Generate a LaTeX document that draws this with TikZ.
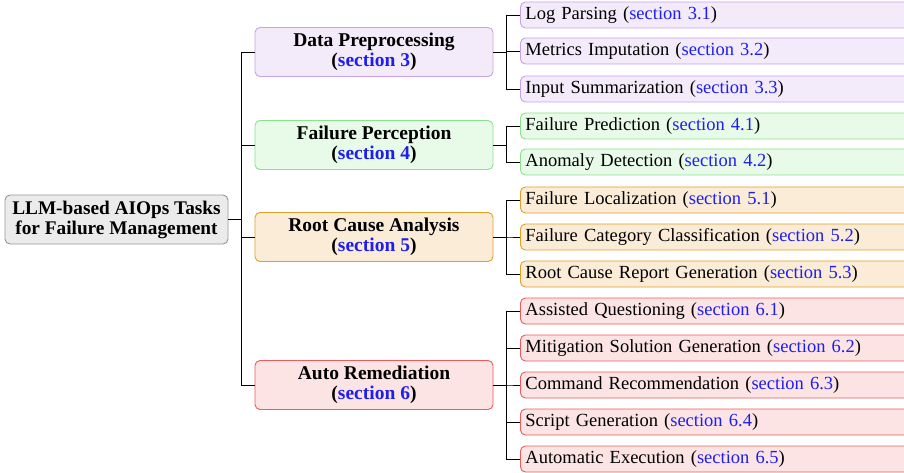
\documentclass[tikz,border=0pt]{standalone}
\usepackage{fontspec}
\setmainfont{Liberation Serif}
\definecolor{seclink}{RGB}{30,30,240}
\definecolor{pfill}{RGB}{243,235,250}
\definecolor{pdraw}{RGB}{200,160,235}
\definecolor{gfill}{RGB}{232,250,232}
\definecolor{gdraw}{RGB}{140,225,140}
\definecolor{ofill}{RGB}{250,236,215}
\definecolor{odraw}{RGB}{225,160,40}
\definecolor{rfill}{RGB}{252,228,228}
\definecolor{rdraw}{RGB}{240,90,90}
\definecolor{nfill}{RGB}{235,235,235}
\definecolor{ndraw}{RGB}{150,150,150}
\newcommand{\sref}[1]{{\color{seclink}section #1}}
\tikzset{
  box/.style={rounded corners=5pt, line width=0.9pt},
  rootbox/.style={box, fill=nfill, draw=ndraw, minimum width=223pt, minimum height=49pt, align=center, font=\fontsize{19.3}{20}\selectfont\bfseries, inner sep=0pt},
  catbox/.style={box, minimum width=238pt, minimum height=49pt, align=center, font=\fontsize{19.5}{20}\selectfont\bfseries, inner sep=0pt},
  leafbox/.style={box, anchor=west, text width=395pt, inner xsep=5pt, minimum height=26pt, inner ysep=0pt, align=left, font=\fontsize{18.5}{19}\selectfont},
  pur/.style={fill=pfill, draw=pdraw},
  gre/.style={fill=gfill, draw=gdraw},
  ora/.style={fill=ofill, draw=odraw},
  red/.style={fill=rfill, draw=rdraw},
  edge/.style={draw=black, line width=0.8pt},
}
\begin{document}
\begin{tikzpicture}[x=1pt,y=-1pt]
\useasboundingbox (0,0) rectangle (904,473);
\clip (0,0) rectangle (904,473);
% root
\node[rootbox] (root) at (116.5,219.5) {LLM-based AIOps Tasks\\for Failure Management};
% categories
\node[catbox,pur] (c3) at (374,52) {Data Preprocessing\\(\sref{3})};
\node[catbox,gre] (c4) at (374,145) {Failure Perception\\(\sref{4})};
\node[catbox,ora] (c5) at (374,237) {Root Cause Analysis\\(\sref{5})};
\node[catbox,red] (c6) at (374,385) {Auto Remediation\\(\sref{6})};
% leaves
\node[leafbox,pur] (l31) at (520,15) {Log Parsing (\sref{3.1})};
\node[leafbox,pur] (l32) at (520,51) {Metrics Imputation (\sref{3.2})};
\node[leafbox,pur] (l33) at (520,89) {Input Summarization (\sref{3.3})};
\node[leafbox,gre] (l41) at (520,126) {Failure Prediction (\sref{4.1})};
\node[leafbox,gre] (l42) at (520,162) {Anomaly Detection (\sref{4.2})};
\node[leafbox,ora] (l51) at (520,200) {Failure Localization (\sref{5.1})};
\node[leafbox,ora] (l52) at (520,237) {Failure Category Classification (\sref{5.2})};
\node[leafbox,ora] (l53) at (520,274) {Root Cause Report Generation (\sref{5.3})};
\node[leafbox,red] (l61) at (520,311) {Assisted Questioning (\sref{6.1})};
\node[leafbox,red] (l62) at (520,348) {Mitigation Solution Generation (\sref{6.2})};
\node[leafbox,red] (l63) at (520,385) {Command Recommendation (\sref{6.3})};
\node[leafbox,red] (l64) at (520,422) {Script Generation (\sref{6.4})};
\node[leafbox,red] (l65) at (520,459) {Automatic Execution (\sref{6.5})};
% edges root -> categories
\foreach \c in {c3,c4,c5,c6}
  \draw[edge] (root.east) -- (241,219.5) |- (\c.west);
% edges categories -> leaves
\foreach \c/\l in {c3/l31,c3/l32,c3/l33,c4/l41,c4/l42,c5/l51,c5/l52,c5/l53,c6/l61,c6/l62,c6/l63,c6/l64,c6/l65}
  \draw[edge] (\c.east) -- ++(13,0) |- (\l.west);
\end{tikzpicture}
\end{document}
